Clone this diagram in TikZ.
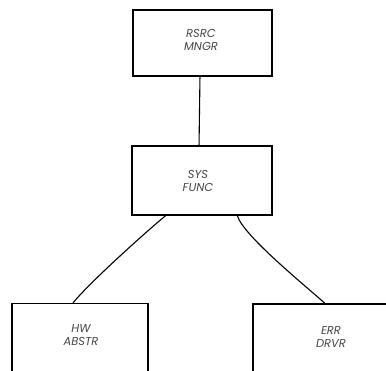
\documentclass[tikz,border=0pt]{standalone}
\usepackage{fontspec}
\setsansfont{Poppins}
\usetikzlibrary{calc}
\begin{document}
\begin{tikzpicture}[x=1pt,y=-1pt,
  box/.style={draw=black, line width=1.2pt, minimum width=#1, inner sep=0pt},
  lbl/.style={font=\sffamily\itshape\fontsize{11.5}{13.5}\selectfont, text=black!72, align=center, inner sep=0pt},
  wire/.style={draw=black, line width=1.1pt}]
\useasboundingbox (0,0) rectangle (386,371);
\node[box=139pt, minimum height=66pt] (rsrc) at (202.5,43) {};
\node[box=140pt, minimum height=69pt] (sys) at (202,180.5) {};
\node[box=136pt, minimum height=69pt] (hw) at (80,338) {};
\node[box=140pt, minimum height=69pt] (err) at (323,338.5) {};
\node[lbl] (trsrc) at (201,40) {RSRC\\MNGR};
\node[lbl] (tsys) at (198,181) {SYS\\FUNC};
\node[lbl] (thw) at (81,335) {HW\\ABSTR};
\node[lbl] (terr) at (331,337) {ERR\\DRVR};
\coordinate (a1) at ($(sys.south west)!0.243!(sys.south east)$);
\coordinate (a2) at ($(hw.north west)!0.449!(hw.north east)$);
\coordinate (b1) at ($(sys.south west)!0.75!(sys.south east)$);
\coordinate (b2) at ($(err.north west)!0.514!(err.north east)$);
\draw[wire] ($(rsrc.south west)!0.482!(rsrc.south east)$) -- ($(sys.north west)!0.479!(sys.north east)$);
\draw[wire] (a1) .. controls ($(a1)+(-16,13)$) and ($(a2)+(17,-21)$) .. (a2);
\draw[wire] (b1) .. controls ($(b1)+(6,20)$) and ($(b2)+(-20,-18)$) .. (b2);
\end{tikzpicture}
\end{document}
